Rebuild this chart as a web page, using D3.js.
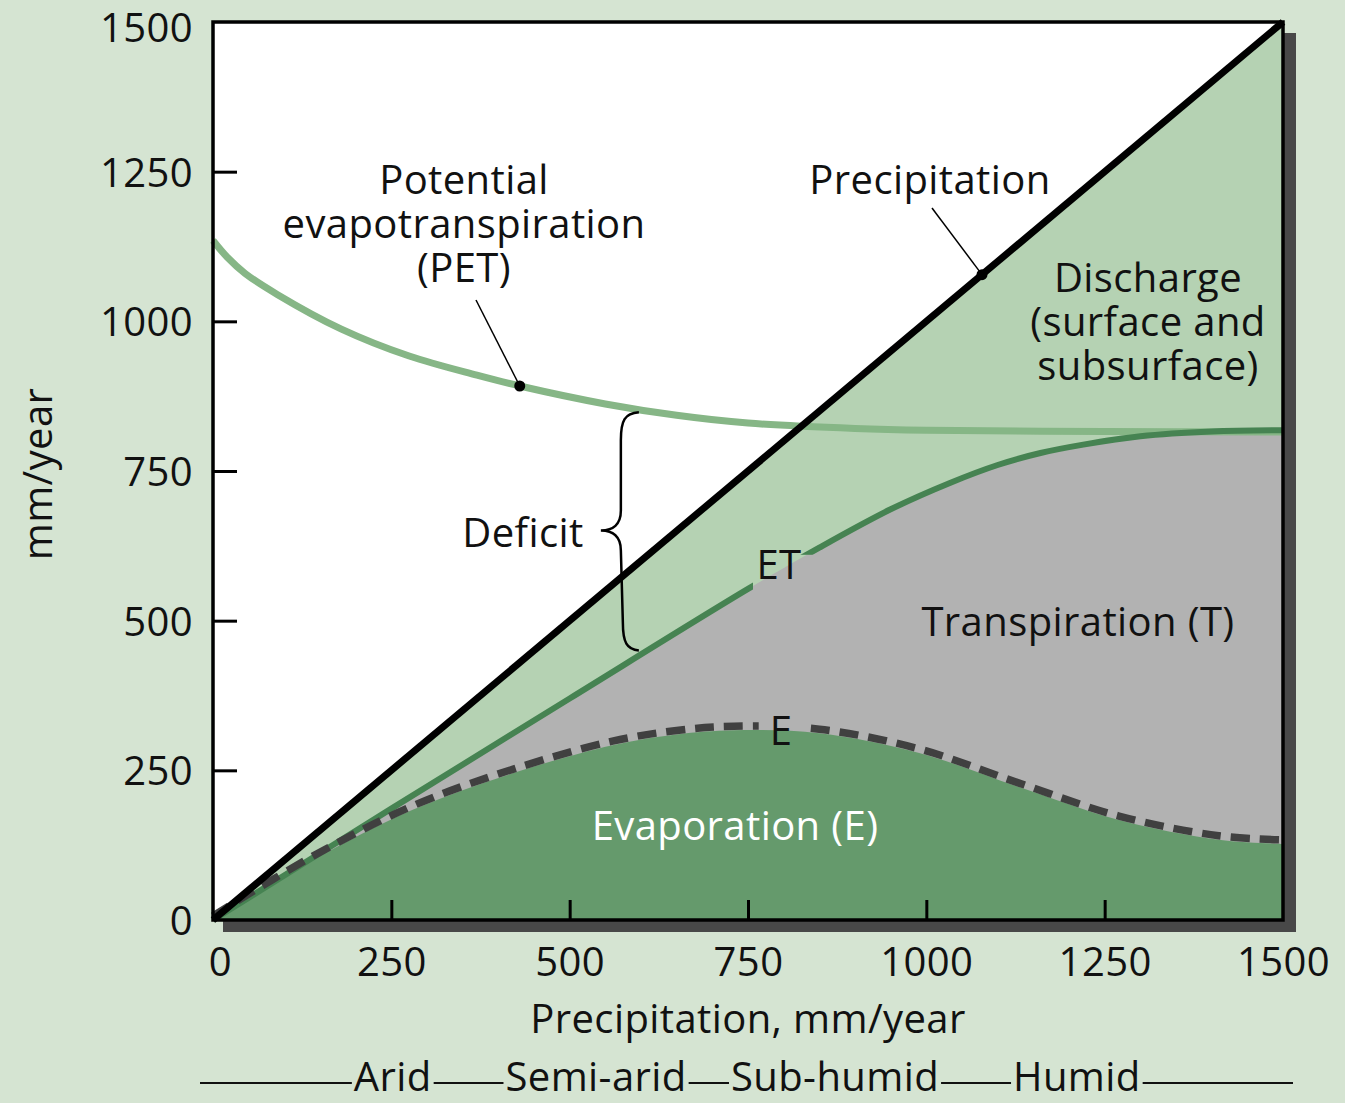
<!DOCTYPE html>
<html>
<head>
<meta charset="utf-8">
<script src="https://cdn.jsdelivr.net/npm/d3@7"></script>
<style>
  html, body { margin: 0; padding: 0; background: #d5e4d2; }
  svg { display: block; }
  text { font-family: "Open Sans", Lato, sans-serif; fill: #111; letter-spacing: 0.4px; }
</style>
</head>
<body>
<svg id="chart" width="1345" height="1103"></svg>
<script>
// ---------- data (mm/year) ----------
const ticks = [0, 250, 500, 750, 1000, 1250, 1500];
const tickLabels = ["0", "250", "500", "750", "1000", "1250", "1500"];

const precipX = [0, 1500];
const precipY = [0, 1500];

const petX = [0, 20, 45, 90, 180, 275, 370, 430, 550, 650, 750, 900, 1000, 1250, 1500];
const petY = [1135, 1107, 1080, 1045, 987, 942, 910, 892, 862, 843, 830, 821, 818, 816, 815];

const etX = [0, 250, 500, 750, 850, 950, 1033, 1100, 1160, 1220, 1300, 1400, 1500];
const etY = [0, 186, 370, 553, 622, 686, 730, 760, 780, 794, 808, 816, 818];

const eX = [0, 140, 280, 420, 560, 650, 730, 850, 990, 1130, 1270, 1410, 1500];
const eY = [0, 100, 184, 245, 292, 310, 317, 312, 279, 222, 167, 134, 127];

const zones = ["Arid", "Semi-arid", "Sub-humid", "Humid"];
const zoneMid = [252, 537, 872, 1211];

(function () {
// ---------- layout ----------
const svg = d3.select("#chart");
const xs = d3.scaleLinear().domain([0, 1500]).range([213, 1283]);
const ys = d3.scaleLinear().domain([0, 1500]).range([920, 22]);
const FS = 40;

const zip = (a, b) => a.map((v, i) => [v, b[i]]);
const precip = zip(precipX, precipY);
const pet = zip(petX, petY);
const et = zip(etX, etY);
const ev = zip(eX, eY);

const [x0, x1] = xs.range();
const [yB, yT] = ys.range();

// shadow
svg.append("rect").attr("x", x0 + 10).attr("y", yT + 11)
  .attr("width", x1 - x0 + 3).attr("height", yB - yT + 1).attr("fill", "#484848");
// plot background
svg.append("rect").attr("x", x0).attr("y", yT)
  .attr("width", x1 - x0).attr("height", yB - yT).attr("fill", "#ffffff");

const g = svg.append("g");
const curve = d3.curveCatmullRom.alpha(0.5);
const areaGen = d3.area().x(d => xs(d[0])).y0(ys(0)).y1(d => ys(d[1])).curve(curve);
const lineGen = d3.line().x(d => xs(d[0])).y(d => ys(d[1])).curve(curve);

// discharge (under precipitation)
g.append("path").datum(precip).attr("d", d3.area().x(d => xs(d[0])).y0(ys(0)).y1(d => ys(d[1]))).attr("fill", "#b5d2b3");
// transpiration (under ET)
g.append("path").datum(et).attr("d", areaGen).attr("fill", "#b2b2b2");
// evaporation (under E)
g.append("path").datum(ev).attr("d", areaGen).attr("fill", "#659a6c");

// masks for line gaps under ET / E labels
const defs = svg.append("defs");
function gapMask(id, rx, ry, rw, rh) {
  const m = defs.append("mask").attr("id", id).attr("maskUnits", "userSpaceOnUse")
    .attr("x", 0).attr("y", 0).attr("width", 1345).attr("height", 1103);
  m.append("rect").attr("x", 0).attr("y", 0).attr("width", 1345).attr("height", 1103).attr("fill", "#fff");
  m.append("rect").attr("x", rx).attr("y", ry).attr("width", rw).attr("height", rh).attr("fill", "#000");
}
gapMask("etGap", xs(757), ys(610), xs(847) - xs(757), ys(520) - ys(610));
gapMask("eGap", xs(765), ys(345), xs(830) - xs(765), ys(290) - ys(345));

// PET line
g.append("path").datum(pet).attr("d", lineGen).attr("fill", "none")
  .attr("stroke", "#86b686").attr("stroke-width", 7);
// ET line
g.append("path").datum(et).attr("d", lineGen).attr("fill", "none")
  .attr("stroke", "#468352").attr("stroke-width", 6).attr("mask", "url(#etGap)");
// E dashed line
g.append("path").datum(ev).attr("d", lineGen).attr("fill", "none")
  .attr("stroke", "#404040").attr("stroke-width", 7.5)
  .attr("stroke-dasharray", "19,10").attr("transform", "translate(0,-4)")
  .attr("mask", "url(#eGap)");
// precipitation line
g.append("path").datum(precip).attr("d", d3.line().x(d => xs(d[0])).y(d => ys(d[1])))
  .attr("fill", "none").attr("stroke", "#000").attr("stroke-width", 7);

// frame
svg.append("rect").attr("x", x0).attr("y", yT)
  .attr("width", x1 - x0).attr("height", yB - yT)
  .attr("fill", "none").attr("stroke", "#000").attr("stroke-width", 3.5);

// axes
const xAxis = svg.append("g").attr("transform", `translate(0,${yB})`)
  .call(d3.axisBottom(xs).tickValues(ticks).tickFormat((d, i) => tickLabels[i])
    .tickSize(-20).tickPadding(28));
xAxis.select(".domain").remove();
xAxis.selectAll(".tick line").attr("stroke", "#000").attr("stroke-width", 3)
  .filter(d => d === 0 || d === 1500).remove();
xAxis.selectAll(".tick text").attr("font-size", FS).attr("font-family", null)
  .style("fill", "#111").attr("dx", d => d === 0 ? 7 : 0);

const yAxis = svg.append("g").attr("transform", `translate(${x0},0)`)
  .call(d3.axisLeft(ys).tickValues(ticks).tickFormat((d, i) => tickLabels[i])
    .tickSize(-24).tickPadding(20));
yAxis.select(".domain").remove();
yAxis.selectAll(".tick line").attr("stroke", "#000").attr("stroke-width", 3)
  .filter(d => d === 0 || d === 1500).remove();
yAxis.selectAll(".tick text").attr("font-size", FS).attr("font-family", null)
  .style("fill", "#111").attr("dy", d => d === 1500 ? "0.48em" : "0.36em");

// labels
const labels = svg.append("g").attr("font-size", FS);
function label(txt, x, y, opts = {}) {
  const t = labels.append("text").attr("x", x).attr("y", y)
    .attr("text-anchor", opts.anchor || "middle").text(txt);
  if (opts.fill) t.style("fill", opts.fill);
  return t;
}

// axis titles
label("Precipitation, mm/year", 748, 1033);
label("mm/year", 0, 0).attr("transform", "translate(52,474) rotate(-90)");

// annotations
label("Potential", 464, 194);
label("evapotranspiration", 464, 238);
label("(PET)", 464, 282);
label("Precipitation", 930, 194);
label("Discharge", 1148, 292);
label("(surface and", 1148, 336);
label("subsurface)", 1148, 380);
label("Deficit", 523, 547);
label("ET", 779, 579);
label("Transpiration (T)", 1078, 636);
label("E", 781, 745);
label("Evaporation (E)", 735, 840, { fill: "#ffffff" });

// leader lines + dots
const ann = svg.append("g");
const petDot = [430, 892];
const precDot = [1078, 1078];
ann.append("line").attr("x1", 476).attr("y1", 300).attr("x2", xs(petDot[0])).attr("y2", ys(petDot[1]))
  .attr("stroke", "#000").attr("stroke-width", 1.5);
ann.append("circle").attr("cx", xs(petDot[0])).attr("cy", ys(petDot[1])).attr("r", 5.5).attr("fill", "#000");
ann.append("line").attr("x1", 932).attr("y1", 208).attr("x2", xs(precDot[0])).attr("y2", ys(precDot[1]))
  .attr("stroke", "#000").attr("stroke-width", 1.5);
ann.append("circle").attr("cx", xs(precDot[0])).attr("cy", ys(precDot[1])).attr("r", 5.5).attr("fill", "#000");

// deficit brace between PET and ET at ~600 mm
const bx = xs(597), bTop = ys(848), bBot = ys(450), bMid = (bTop + bBot) / 2 - 1;
const bp = d3.path();
bp.moveTo(bx, bTop);
bp.bezierCurveTo(bx - 14, bTop + 1, bx - 18, bTop + 8, bx - 18, bTop + 28);
bp.lineTo(bx - 18, bMid - 20);
bp.bezierCurveTo(bx - 18, bMid - 6, bx - 26, bMid, bx - 38, bMid);
bp.bezierCurveTo(bx - 26, bMid, bx - 18, bMid + 6, bx - 18, bMid + 20);
bp.lineTo(bx - 16, bBot - 28);
bp.bezierCurveTo(bx - 16, bBot - 8, bx - 12, bBot - 1, bx, bBot);
ann.append("path").attr("d", bp.toString()).attr("fill", "none")
  .attr("stroke", "#000").attr("stroke-width", 2.5);

// climate zones
const zg = svg.append("g");
const zy = 1091, lineY = 1083;
const boxes = zones.map((z, i) => {
  const t = label(z, xs(zoneMid[i]), zy);
  return t.node().getBBox();
});
const segs = [];
let prev = 200;
boxes.forEach(b => { segs.push([prev, b.x - 2]); prev = b.x + b.width + 2; });
segs.push([prev, 1293]);
segs.forEach(s => zg.append("line").attr("x1", s[0]).attr("x2", s[1])
  .attr("y1", lineY).attr("y2", lineY).attr("stroke", "#111").attr("stroke-width", 2.2));
})();
</script>
</body>
</html>
